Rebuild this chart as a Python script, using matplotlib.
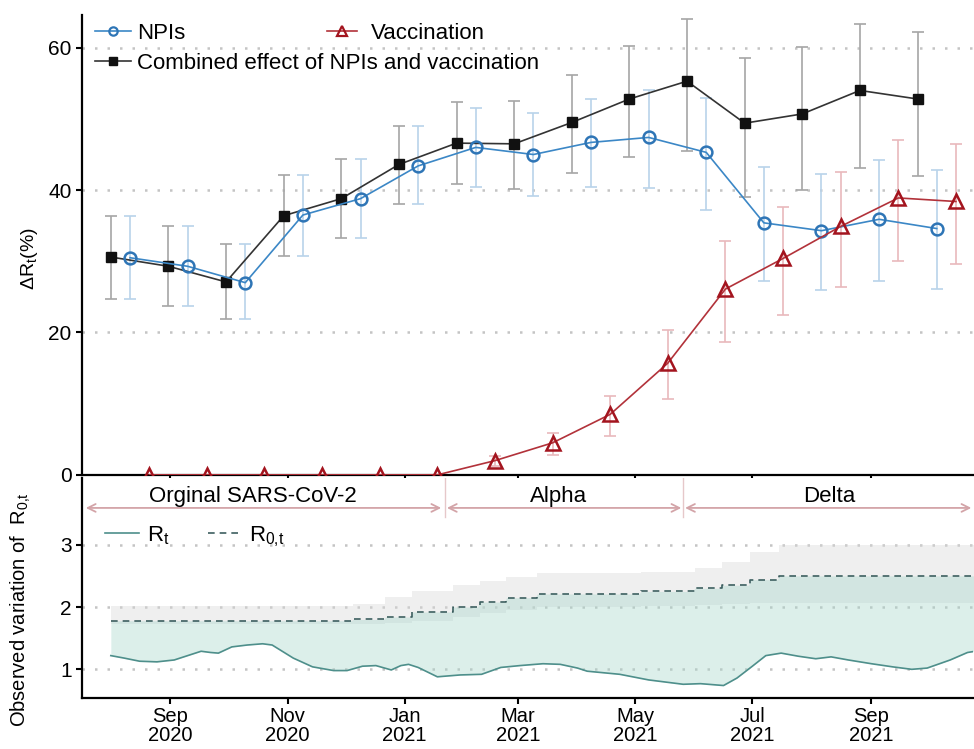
import numpy as np
import pandas as pd
import matplotlib.pyplot as plt
import matplotlib.dates as mdates
from matplotlib.lines import Line2D

plt.rcParams['font.family'] = ['Liberation Sans', 'DejaVu Sans']
plt.rcParams['mathtext.fontset'] = 'custom'
plt.rcParams['mathtext.rm'] = 'Liberation Sans'
plt.rcParams['mathtext.it'] = 'Liberation Sans:italic'

# monthly estimates of the reduction in Rt (%), 30-day periods
period_start = pd.date_range('2020-08-01', periods=15, freq='30D')

combined = [30.6, 29.3, 27.1, 36.4, 38.8, 43.6, 46.6, 46.5, 49.5, 52.8, 55.3, 49.4, 50.7, 54.0, 52.8]
combined_lo = [24.7, 23.7, 21.9, 30.8, 33.3, 38.0, 40.8, 40.2, 42.4, 44.6, 45.5, 39.1, 40.0, 43.1, 42.0]
combined_hi = [36.4, 35.0, 32.4, 42.1, 44.4, 49.0, 52.4, 52.5, 56.2, 60.3, 64.0, 58.6, 60.1, 63.4, 62.2]

npis = [30.5, 29.3, 27.0, 36.5, 38.8, 43.4, 46.0, 45.0, 46.7, 47.4, 45.3, 35.4, 34.3, 35.9, 34.6]
npis_lo = [24.7, 23.7, 21.9, 30.8, 33.3, 38.0, 40.5, 39.2, 40.4, 40.3, 37.2, 27.2, 25.9, 27.2, 26.1]
npis_hi = [36.4, 35.0, 32.4, 42.1, 44.4, 49.0, 51.6, 50.8, 52.8, 54.0, 52.9, 43.2, 42.2, 44.2, 42.8]

vacc = [0, 0, 0, 0, 0, 0, 2.0, 4.5, 8.5, 15.7, 26.1, 30.4, 34.9, 38.9, 38.4]
vacc_lo = [0, 0, 0, 0, 0, 0, 1.3, 2.8, 5.5, 10.7, 18.7, 22.5, 26.4, 30.0, 29.6]
vacc_hi = [0, 0, 0, 0, 0, 0, 2.7, 5.9, 11.1, 20.4, 32.8, 37.6, 42.6, 47.0, 46.5]

# observed Rt
rt_dates = pd.to_datetime([
    '2020-08-01', '2020-08-08', '2020-08-16', '2020-08-25', '2020-09-03', '2020-09-10',
    '2020-09-17', '2020-09-22', '2020-09-26', '2020-10-03', '2020-10-11', '2020-10-19',
    '2020-10-24', '2020-11-04', '2020-11-14', '2020-11-25', '2020-12-02', '2020-12-10',
    '2020-12-17', '2020-12-25', '2020-12-30', '2021-01-03', '2021-01-08', '2021-01-18',
    '2021-01-30', '2021-02-10', '2021-02-20', '2021-03-02', '2021-03-14', '2021-03-23',
    '2021-04-01', '2021-04-06', '2021-04-23', '2021-05-08', '2021-05-26', '2021-06-04',
    '2021-06-16', '2021-06-23', '2021-07-01', '2021-07-08', '2021-07-16', '2021-07-25',
    '2021-08-03', '2021-08-11', '2021-08-20', '2021-09-01', '2021-09-12', '2021-09-22',
    '2021-09-30', '2021-10-12', '2021-10-21', '2021-10-25'])
rt = [1.22, 1.18, 1.13, 1.12, 1.15, 1.22,
      1.29, 1.27, 1.26, 1.36, 1.39, 1.41,
      1.39, 1.18, 1.04, 0.98, 0.98, 1.05,
      1.06, 0.99, 1.06, 1.08, 1.03, 0.88,
      0.91, 0.92, 1.03, 1.06, 1.09, 1.08,
      1.02, 0.97, 0.92, 0.83, 0.76, 0.77,
      0.74, 0.86, 1.05, 1.22, 1.26, 1.21,
      1.17, 1.20, 1.15, 1.09, 1.04, 1.00,
      1.02, 1.15, 1.27, 1.29]

# basic reproduction number R0,t (step changes) with its interval
r0_dates = pd.to_datetime([
    '2020-08-01', '2020-12-05', '2020-12-22', '2021-01-05', '2021-01-26', '2021-02-09',
    '2021-02-23', '2021-03-11', '2021-05-04', '2021-06-01', '2021-06-15', '2021-06-30',
    '2021-07-15', '2021-10-25'])
r0 = [1.78, 1.80, 1.84, 1.92, 2.00, 2.08, 2.15, 2.21, 2.25, 2.30, 2.35, 2.44, 2.50, 2.50]
r0_hi = [2.01, 2.05, 2.16, 2.25, 2.35, 2.42, 2.48, 2.54, 2.56, 2.63, 2.72, 2.88, 3.00, 3.00]
r0_lo = [1.72, 1.73, 1.74, 1.78, 1.84, 1.90, 1.95, 2.00, 2.02, 2.04, 2.05, 2.06, 2.06, 2.06]

# dominant variants
variant_names = ['Orginal SARS-CoV-2', 'Alpha', 'Delta']
variant_start = pd.to_datetime(['2020-07-19', '2021-01-23', '2021-05-27'])
variant_end = pd.to_datetime(['2021-01-20', '2021-05-25', '2021-10-23'])
variant_label_at = pd.to_datetime(['2020-10-14', '2021-03-22', '2021-08-10'])
variant_breaks = pd.to_datetime(['2021-01-22', '2021-05-26'])

tick_dates = pd.to_datetime(['2020-09-01', '2020-11-01', '2021-01-01', '2021-03-01',
                             '2021-05-01', '2021-07-01', '2021-09-01'])
tick_labels = ['Sep\n2020', 'Nov\n2020', 'Jan\n2021', 'Mar\n2021',
               'May\n2021', 'Jul\n2021', 'Sep\n2021']

blue, blue_light = '#2e75b6', '#b9d3ea'
red, red_light = '#a3141e', '#e9b9bc'
black, grey = '#111111', '#a6a6a6'
teal = '#4e8f8b'
grid_kw = dict(color='#c4c4c4', lw=1.8, ls=(0, (1, 4)))

fig = plt.figure(figsize=(9.74, 7.49), dpi=100)
ax1 = fig.add_axes([0.0842, 0.366, 0.915, 0.614])
ax2 = fig.add_axes([0.0842, 0.0681, 0.915, 0.2937], sharex=ax1)

x_comb = period_start
x_npi = period_start + pd.Timedelta(days=10)
x_vac = period_start + pd.Timedelta(days=20)


def err(v, lo, hi):
    v, lo, hi = map(np.asarray, (v, lo, hi))
    return [v - lo, hi - v]


for y in [20, 40, 60]:
    ax1.axhline(y, zorder=0, **grid_kw)

ax1.errorbar(x_comb, combined, yerr=err(combined, combined_lo, combined_hi), fmt='none',
             ecolor=grey, elinewidth=1.2, capsize=4, capthick=1.2, zorder=1)
ax1.errorbar(x_npi, npis, yerr=err(npis, npis_lo, npis_hi), fmt='none',
             ecolor=blue_light, elinewidth=1.2, capsize=4, capthick=1.2, zorder=1)
ax1.errorbar(x_vac, vacc, yerr=err(vacc, vacc_lo, vacc_hi), fmt='none',
             ecolor=red_light, elinewidth=1.2, capsize=4, capthick=1.2, zorder=1)

ax1.plot(x_comb, combined, color='#333333', lw=1.2, marker='s', ms=7,
         mfc=black, mec=black, zorder=3)
ax1.plot(x_npi, npis, color='#3b87c6', lw=1.2, marker='o', ms=8.5,
         mfc='none', mec=blue, mew=1.8, zorder=3)
ax1.plot(x_vac, vacc, color='#b2323a', lw=1.2, marker='^', ms=9.5,
         mfc='none', mec=red, mew=1.8, zorder=3)

ax1.set_ylim(0, 64.6)
ax1.set_yticks([0, 20, 40, 60])
ax1.set_ylabel(r'$\Delta$R$_\mathregular{t}$(%)', fontsize=14)
ax1.yaxis.set_label_coords(-0.047, 0.47)

h_npi = Line2D([], [], color='#3b87c6', lw=1.2, marker='o', ms=6, mfc='none', mec=blue, mew=1.6)
h_comb = Line2D([], [], color='#333333', lw=1.2, marker='s', ms=6, mfc=black, mec=black)
h_vac = Line2D([], [], color='#b2323a', lw=1.2, marker='^', ms=7, mfc='none', mec=red, mew=1.6)
leg1 = ax1.legend([h_npi, h_comb], ['NPIs', 'Combined effect of NPIs and vaccination'],
                  loc='upper left', bbox_to_anchor=(0.0146, 0.982), frameon=False,
                  fontsize=16, borderpad=0, borderaxespad=0, handlelength=1.6,
                  handletextpad=0.3, labelspacing=0.4)
ax1.add_artist(leg1)
ax1.legend([h_vac], ['Vaccination'], loc='upper left', bbox_to_anchor=(0.275, 0.982),
           frameon=False, fontsize=16, borderpad=0, borderaxespad=0, handlelength=1.35,
           handletextpad=0.6)

# lower panel: observed Rt against R0,t
for y in [1, 2, 3]:
    ax2.axhline(y, zorder=0, **grid_kw)

ax2.fill_between(r0_dates, r0_lo, r0_hi, step='post', color='#d9d9d9', alpha=0.4, lw=0, zorder=1)

rt_num = mdates.date2num(rt_dates)
r0_num = mdates.date2num(r0_dates)
days = np.arange(rt_num[0], rt_num[-1] + 1)
rt_days = np.interp(days, rt_num, rt)
r0_days = np.asarray(r0)[np.clip(np.searchsorted(r0_num, days, side='right') - 1, 0, len(r0) - 1)]
ax2.fill_between(days, rt_days, r0_days, color='#a8d8cc', alpha=0.4, lw=0, zorder=1)

ax2.step(r0_dates, r0, where='post', color='#3d5f60', lw=1.2, ls=(0, (4, 3)), zorder=2)
ax2.plot(rt_dates, rt, color=teal, lw=1.2, zorder=3)

arrow_col = '#d3a4a8'
for name, s, e, m in zip(variant_names, variant_start, variant_end, variant_label_at):
    ax2.annotate('', xy=(e, 3.59), xytext=(s, 3.59),
                 arrowprops=dict(arrowstyle='<->', color=arrow_col, lw=1.3,
                                 shrinkA=0, shrinkB=0, mutation_scale=14))
    ax2.text(m, 3.77, name, ha='center', va='center', fontsize=16)
for b in variant_breaks:
    ax2.plot([b, b], [3.45, 4.07], color='#e6c8ca', lw=1.0)

ax2.legend([Line2D([], [], color=teal, lw=1.2),
            Line2D([], [], color='#3d5f60', lw=1.2, ls=(0, (4, 3)))],
           [r'R$_\mathregular{t}$', r'R$_\mathregular{0{,}t}$'],
           loc='upper left', bbox_to_anchor=(0.026, 0.79), frameon=False, fontsize=16,
           ncol=2, borderpad=0, borderaxespad=0, handlelength=1.5, handletextpad=0.36,
           columnspacing=1.75)

ax2.set_ylim(0.54, 4.07)
ax2.set_yticks([1, 2, 3])
ax2.set_ylabel(r'Observed variation of  R$_\mathregular{0{,}t}$', fontsize=14.5)
ax2.yaxis.set_label_coords(-0.055, 0.40)

ax2.set_xlim(pd.Timestamp('2020-07-17'), pd.Timestamp('2021-10-24'))
ax2.set_xticks(tick_dates)
ax2.set_xticklabels(tick_labels, linespacing=1.0)

for ax in (ax1, ax2):
    for side in ('top', 'right'):
        ax.spines[side].set_visible(False)
    for side in ('left', 'bottom'):
        ax.spines[side].set_linewidth(1.6)
    ax.tick_params(direction='out', length=4.5, width=1.5, labelsize=15, pad=3)
ax2.tick_params(axis='x', labelsize=14.5, pad=2)
ax1.tick_params(axis='x', labelbottom=False)

fig.savefig('out.png', dpi=100)
